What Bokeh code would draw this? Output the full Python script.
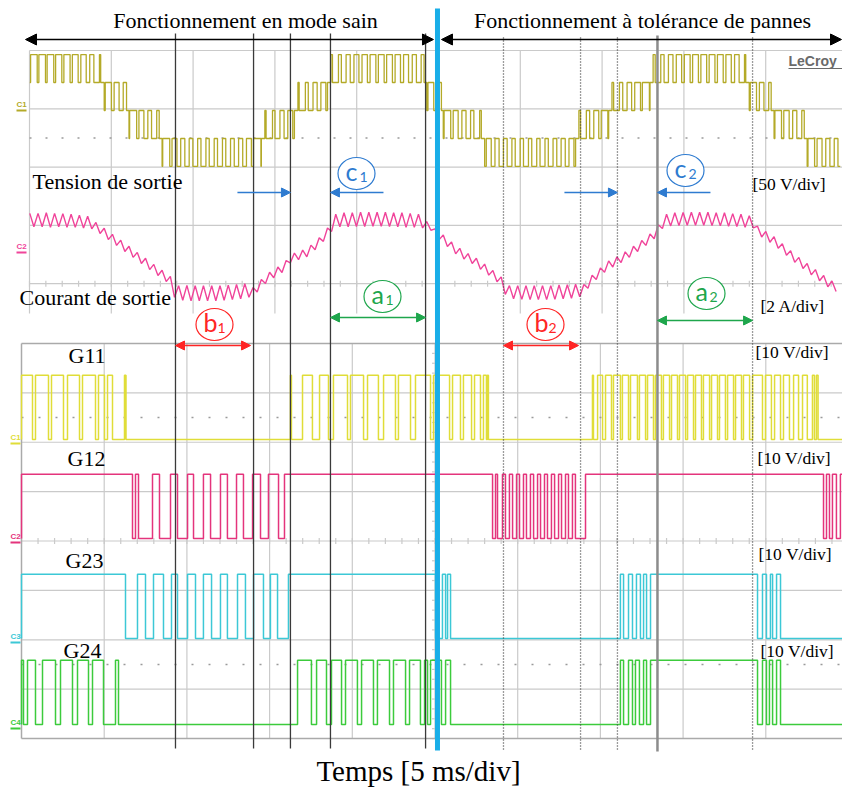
from bokeh.plotting import figure
from bokeh.models import Range1d, Arrow, NormalHead
from bokeh.core.properties import value
from bokeh.embed import file_html
from bokeh.resources import INLINE

# ======================= DATA =======================
MS_PER_DIV = 5
VOLT_V_PER_DIV = 50
CURR_A_PER_DIV = 2
GATE_V_PER_DIV = 10

titles = ["Fonctionnement en mode sain", "Fonctionnement à tolérance de pannes"]
gate_names = ["G11", "G12", "G23", "G24"]

# output voltage: 0.5 ms PWM slots -> lower level index (x 24 V) and duty of upper level
volt_t0_ms = 0.5
volt_slot_ms = 0.5
volt_step_v = 24
volt_low_level = [1, 1, 1, 1, 1, 1, 1, 1, 1,
                  0, 0, 0,
                  -1, -1, -1, -1,
                  -2, -2, -2, -2, -2, -2, -2, -2, -2, -2, -2, -2,
                  -1, -1, -1, -1,
                  0, 0, 0, 0,
                  1, 1, 1, 1, 1, 1, 1, 1, 1, 1, 1, 1,
                  0, 0,
                  -1, -1, -1, -1, -1,
                  -2, -2, -2, -2, -2, -2, -2, -2, -2, -2, -2,
                  -1, -1, -1, -1,
                  0, 0, 0, 0, 0,
                  1, 1, 1, 1, 1, 1, 1, 1, 1, 1, 1, 1,
                  0, 0, 0,
                  -1, -1, -1, -1,
                  -2, -2, -2, -2]
volt_duty = [0.8, 0.8, 0.8, 0.75, 0.75, 0.7, 0.65, 0.5, 0.15,
             0.75, 0.6, 0.4,
             0.85, 0.6, 0.45, 0.3,
             0.85, 0.6, 0.5, 0.45, 0.4, 0.4, 0.4, 0.4, 0.45, 0.5, 0.6, 0.9,
             0.15, 0.3, 0.5, 0.6,
             0.15, 0.35, 0.5, 0.6,
             0.2, 0.35, 0.5, 0.6, 0.65, 0.7, 0.7, 0.7, 0.65, 0.6, 0.5, 0.35,
             0.7, 0.55,
             0.8, 0.6, 0.5, 0.4, 0.2,
             0.6, 0.5, 0.45, 0.4, 0.4, 0.4, 0.4, 0.4, 0.45, 0.5, 0.6,
             0.2, 0.4, 0.6, 0.8,
             0.2, 0.4, 0.55, 0.7, 0.85,
             0.25, 0.4, 0.55, 0.65, 0.7, 0.7, 0.7, 0.7, 0.7, 0.65, 0.55, 0.15,
             0.75, 0.55, 0.3,
             0.8, 0.65, 0.5, 0.3,
             0.8, 0.6, 0.5, 0.45]

# output current, read every 0.25 ms (A)
cur_t0_ms = 0.5
cur_dt_ms = 0.25
current_a = [1.48, 1.02, 1.48, 1.02, 1.50, 1.00, 1.48, 1.02, 1.47, 1.00, 1.45, 1.00, 1.42, 0.98, 1.38, 0.95,
             1.17, 0.79, 0.97, 0.58, 0.76, 0.38, 0.56, 0.17, 0.35, -0.03, 0.14, -0.24, -0.06, -0.45, -0.27, -0.65,
             -0.47, -0.86, -0.68,
             -1.40, -1.00, -1.50, -0.99, -1.52, -1.00, -1.52, -1.00, -1.52, -1.00, -1.52, -1.00, -1.50, -0.98,
             -1.48, -0.96, -1.45, -0.93, -1.40,
             -1.06, -1.22, -0.79, -0.93, -0.54, -0.73, -0.36, -0.55, -0.14, -0.22, 0.12, -0.11, 0.22, -0.01,
             0.39, 0.23, 0.64, 0.52, 0.98, 0.86,
             1.45, 1.02, 1.50, 1.02, 1.50, 1.03, 1.52, 1.03, 1.52, 1.04, 1.52, 1.04, 1.52, 1.03, 1.50, 1.02,
             1.50, 1.00, 1.48, 1.00, 1.45, 0.98, 1.20, 0.90,
             0.95,
             0.58, 0.74, 0.34, 0.50, 0.09, 0.28, -0.09, 0.10, -0.24, -0.06, -0.44, -0.26, -0.64, -0.48, -0.87,
             -0.70, -1.30,
             -1.00, -1.45, -1.00, -1.47, -1.00, -1.48, -1.00, -1.48, -1.00, -1.48, -1.00, -1.47, -0.98, -1.45,
             -0.97, -1.43, -0.95, -1.38,
             -0.96, -1.09, -0.64, -0.79, -0.39, -0.54, -0.15, -0.36, -0.01, -0.21, 0.16, -0.03, 0.35, 0.17,
             0.55, 0.38, 0.77, 0.61, 1.09, 0.96,
             1.45, 1.05, 1.50, 1.06, 1.51, 1.07, 1.52, 1.07, 1.52, 1.07, 1.52, 1.06, 1.50, 1.05, 1.50, 1.04,
             1.47, 1.03, 1.45, 1.00, 1.40, 0.98,
             1.04, 0.67, 0.86, 0.49, 0.68, 0.28, 0.44, 0.04, 0.20, -0.20, -0.03, -0.41, -0.24, -0.63, -0.45,
             -0.83, -0.65, -1.04, -0.84, -1.20]

# gate signals: switch-on / switch-off instants (ms)
gate_high_v = 13
g11_on = [0.0, 0.846, 1.814, 2.781, 3.688, 4.655, 5.200, 6.227, 16.26, 16.99, 18.02, 18.86, 19.89, 20.92,
          21.89, 22.79, 23.82, 24.91, 26.06, 26.72, 27.39, 27.93, 28.17, 34.52, 34.83, 35.31, 35.79, 36.33,
          36.82, 37.36, 37.85, 38.33, 38.81, 39.30, 39.78, 40.27, 40.75, 41.23, 41.72, 42.20, 42.69, 43.17,
          43.65, 44.20, 44.98, 45.53, 46.07, 46.68, 47.22, 47.82, 48.06]
g11_off = [0.665, 1.632, 2.539, 3.507, 4.474, 5.018, 5.502, 6.318, 16.32, 17.59, 18.56, 19.71, 20.68, 21.58,
           22.61, 23.52, 24.73, 25.88, 26.54, 27.21, 27.75, 28.11, 28.23, 34.58, 35.13, 35.67, 36.21, 36.70,
           37.24, 37.73, 38.21, 38.69, 39.18, 39.66, 40.15, 40.63, 41.11, 41.60, 42.08, 42.56, 43.05, 43.53,
           44.02, 44.80, 45.34, 45.89, 46.43, 46.98, 47.51, 47.94, 48.16]
g12_on = [0.0, 6.892, 7.920, 9.009, 10.04, 11.00, 12.03, 13.00, 13.97, 14.93, 15.90, 28.66, 29.08, 29.50,
          29.93, 30.35, 30.77, 31.20, 31.62, 32.04, 32.47, 32.89, 33.31, 34.10, 48.67, 49.03, 49.51]
g12_off = [6.711, 7.074, 8.343, 9.432, 10.40, 11.43, 12.45, 13.42, 14.45, 15.54, 28.48, 28.78, 29.26, 29.69,
           30.11, 30.53, 30.96, 31.38, 31.80, 32.23, 32.65, 33.07, 33.49, 48.49, 48.85, 49.27, 50.12]
g23_on = [0.0, 7.013, 7.981, 9.069, 10.04, 11.00, 12.03, 13.06, 14.03, 15.05, 16.14, 25.45, 25.76, 36.21,
          36.70, 37.18, 37.61, 38.03, 44.80, 45.28, 45.65]
g23_off = [6.288, 7.497, 8.585, 9.432, 10.52, 11.49, 12.45, 13.54, 14.63, 15.48, 25.03, 25.64, 25.94, 36.40,
           36.94, 37.42, 37.79, 44.50, 45.04, 45.41, 45.89]
g24_on = [0.0, 0.363, 1.270, 2.358, 3.386, 4.293, 5.683, 16.69, 17.84, 18.74, 19.59, 20.56, 21.52, 22.49,
          23.46, 24.37, 24.73, 25.64, 36.21, 36.70, 37.12, 37.61, 38.03, 44.80, 45.22, 45.65]
g24_off = [0.121, 0.846, 2.056, 3.083, 4.051, 4.958, 5.865, 17.53, 18.44, 19.35, 20.31, 21.28, 22.25, 23.22,
           24.12, 24.55, 25.39, 25.94, 36.40, 36.94, 37.36, 37.79, 44.50, 45.04, 45.41, 45.89]

# cursors (ms)
cursor_healthy_ms = [9.31, 14.03, 16.26, 18.68, 24.43]
cursor_fault_dotted_ms = [29.14, 33.80, 36.03, 44.20]
cursor_fault_solid_ms = 38.45
transition_ms = 25.15

# ======================= LAYOUT =======================
W, H = 842, 787
ORIGIN_PX = 21
PX_PER_MS = 82.7 / MS_PER_DIV


def px_t(x):
    return (x - ORIGIN_PX) / PX_PER_MS


def base(y, fs):
    # place the visible baseline of a text of size fs at row y
    return y - 0.3 * fs


p = figure(width=W, height=H, x_range=Range1d(px_t(0), px_t(W)),
           y_range=Range1d(H, 0), output_backend="svg", toolbar_location=None,
           x_axis_type=None, y_axis_type=None, min_border=0)
p.outline_line_color = None
p.background_fill_color = "white"

GRID = "#cacaca"
SERIF = value("Liberation Serif")

# ---- top scope (voltage / current) ----
TOP_LEFT_PX, TOP_DIV_PX = 29, 81.8
TOP_TOP, TOP_ROW, TOP_BOTTOM = 50, 58.3, 313
V_ZERO, I_ZERO = 110, 256
px_per_v = TOP_ROW / VOLT_V_PER_DIV
px_per_a = TOP_ROW / CURR_A_PER_DIV

xs, ys = [], []
for k in range(10):
    t = px_t(TOP_LEFT_PX + k * TOP_DIV_PX)
    xs.append([t, t]); ys.append([TOP_TOP, TOP_BOTTOM])
for k in range(5):
    y = TOP_TOP + k * TOP_ROW
    xs.append([px_t(TOP_LEFT_PX), px_t(850)]); ys.append([y, y])
p.multi_line(xs, ys, line_color=GRID, line_width=1.2)
p.line([px_t(TOP_LEFT_PX), px_t(850)], [TOP_TOP + 1.5 * TOP_ROW] * 2, line_color="#9a9a9a",
       line_width=1.5, line_dash="2 14")
tick_t = [px_t(TOP_LEFT_PX + k * TOP_DIV_PX / 5) for k in range(52)]
ty = TOP_TOP + 4 * TOP_ROW
p.segment(x0=tick_t, y0=[ty - 3] * 52, x1=tick_t, y1=[ty + 3] * 52, line_color=GRID, line_width=1.2)

# ---- bottom scope (gates) ----
BOT_TOP, BOT_ROW = 343, 49.38
BOT_BOTTOM = BOT_TOP + 8 * BOT_ROW
xs, ys = [], []
for k in range(1, 10):
    t = k * MS_PER_DIV
    xs.append([t, t]); ys.append([BOT_TOP, BOT_BOTTOM])
for k in range(1, 8):
    y = BOT_TOP + k * BOT_ROW
    xs.append([0, 10 * MS_PER_DIV]); ys.append([y, y])
p.multi_line(xs, ys, line_color=GRID, line_width=1.2)
for yy in (BOT_TOP + 1.5 * BOT_ROW, BOT_TOP + 6.5 * BOT_ROW):
    p.line([0, 10 * MS_PER_DIV], [yy, yy], line_color="#9a9a9a", line_width=1.5, line_dash="2 15")
tick_t = [k for k in range(0, 51)]
cy = BOT_TOP + 4 * BOT_ROW
p.segment(x0=tick_t, y0=[cy - 3] * 51, x1=tick_t, y1=[cy + 3] * 51, line_color=GRID, line_width=1.2)
vy = [BOT_TOP + k * BOT_ROW / 5 for k in range(41)]
cx = 5 * MS_PER_DIV
p.segment(x0=[cx - 3 / PX_PER_MS] * 41, y0=vy, x1=[cx + 3 / PX_PER_MS] * 41, y1=vy, line_color=GRID,
          line_width=1.2)
p.multi_line([[0, 0], [0, 10 * MS_PER_DIV], [0, 10 * MS_PER_DIV]],
             [[BOT_TOP, BOT_BOTTOM], [BOT_TOP, BOT_TOP], [BOT_BOTTOM, BOT_BOTTOM]],
             line_color="#aaaaaa", line_width=1.5)

# ---- gate traces ----
px_per_vg = BOT_ROW / GATE_V_PER_DIV
gate_zero = [439, 538, 638, 724]
gate_colors = ["#e0dd38", "#e4347c", "#3cc8d6", "#3ccb3c"]
gate_data = [(g11_on, g11_off), (g12_on, g12_off), (g23_on, g23_off), (g24_on, g24_off)]
t_end = px_t(850)
for (on, off), z, col in zip(gate_data, gate_zero, gate_colors):
    gx, gy = [0.0], [0.0]
    for a, b in zip(on, off):
        gx += [a, a, b, b]
        gy += [0, gate_high_v, gate_high_v, 0]
    gx.append(t_end); gy.append(0)
    p.line(gx, [z - v * px_per_vg for v in gy], line_color=col, line_width=1.5)

# ---- voltage trace ----
vx, vy2 = [], []
for k, (lo, d) in enumerate(zip(volt_low_level, volt_duty)):
    t0 = volt_t0_ms + k * volt_slot_ms
    a = t0 + (1 - d) / 2 * volt_slot_ms
    b = t0 + (1 + d) / 2 * volt_slot_ms
    vx += [t0, a, a, b, b, t0 + volt_slot_ms]
    vy2 += [lo, lo, lo + 1, lo + 1, lo, lo]
p.line(vx, [V_ZERO - lv * volt_step_v * px_per_v for lv in vy2], line_color="#b4aa28", line_width=1.3)

# ---- current trace ----
ct = [cur_t0_ms + k * cur_dt_ms for k in range(len(current_a))]
p.line(ct, [I_ZERO - a * px_per_a for a in current_a], line_color="#f0449a", line_width=1.4)

# ---- cursors ----
n = len(cursor_healthy_ms)
p.segment(x0=cursor_healthy_ms, y0=[33] * n, x1=cursor_healthy_ms, y1=[748] * n,
          line_color="#3a3a3a", line_width=1.3)
n = len(cursor_fault_dotted_ms)
p.segment(x0=cursor_fault_dotted_ms, y0=[37] * n, x1=cursor_fault_dotted_ms, y1=[751] * n,
          line_color="#3a3a3a", line_width=1.3, line_dash="1 2")
p.segment(x0=[cursor_fault_solid_ms], y0=[35], x1=[cursor_fault_solid_ms], y1=[751],
          line_color="#8c8c8c", line_width=2.5)

# ---- transition (blue) line ----
p.segment(x0=[transition_ms], y0=[8], x1=[transition_ms], y1=[750], line_color="#19aee8",
          line_width=5)


# ---- arrows ----
def arrow(t0, t1, y, color, both=True, size=9, lw=1.4):
    end = NormalHead(size=size, fill_color=color, line_color=color)
    start = NormalHead(size=size, fill_color=color, line_color=color) if both else None
    p.add_layout(Arrow(x_start=t0, y_start=y, x_end=t1, y_end=y, start=start, end=end,
                       line_color=color, line_width=lw))


arrow(px_t(25), transition_ms - 4 / PX_PER_MS, 39, "black", size=11, lw=1.5)
arrow(transition_ms + 4 / PX_PER_MS, px_t(841), 39, "black", size=11, lw=1.5)

BLUE, GREEN, RED = "#2e7bd0", "#1ea64c", "#ff2525"
tail = 53 / PX_PER_MS
arrow(cursor_healthy_ms[2] - tail, cursor_healthy_ms[2], 192, BLUE, both=False)
arrow(cursor_healthy_ms[3] + tail, cursor_healthy_ms[3], 192, BLUE, both=False)
arrow(cursor_fault_dotted_ms[2] - tail, cursor_fault_dotted_ms[2], 192, BLUE, both=False)
arrow(cursor_fault_solid_ms + tail, cursor_fault_solid_ms, 192, BLUE, both=False)
arrow(cursor_healthy_ms[3], cursor_healthy_ms[4], 317, GREEN)
arrow(cursor_fault_solid_ms, cursor_fault_dotted_ms[3], 320, GREEN)
arrow(cursor_healthy_ms[0], cursor_healthy_ms[1] - 3 / PX_PER_MS, 345, RED)
arrow(cursor_fault_dotted_ms[0], cursor_fault_dotted_ms[1] - 2 / PX_PER_MS, 345, RED)

# ---- circled labels ----
circ = [("c", "1", 356, 173, BLUE), ("c", "2", 685, 170, BLUE),
        ("a", "1", 382, 296, GREEN), ("a", "2", 706, 293, GREEN),
        ("b", "1", 214, 324, RED), ("b", "2", 545, 324, RED)]
for letter, sub, cxp, cyp, col in circ:
    p.ellipse(x=[px_t(cxp)], y=[cyp], width=37, height=32, width_units="screen",
              height_units="screen", fill_color="white", line_color=col, line_width=1.2)
    p.text(x=[px_t(cxp - 11)], y=[base(cyp + 5, 25)], text=[letter], text_font=value("Lato"),
           text_font_size=value("25px"), text_color=col, text_baseline="alphabetic")
    p.text(x=[px_t(cxp + 3)], y=[base(cyp + 8, 14)], text=[sub], text_font=value("Lato"),
           text_font_size=value("14px"), text_color=col, text_baseline="alphabetic")

# ---- texts ----
p.text(x=[px_t(245), px_t(642)], y=[base(27, 22)] * 2, text=titles, text_font=SERIF,
       text_font_size=value("22px"), text_align="center", text_baseline="alphabetic")
p.text(x=[px_t(32), px_t(19)], y=[base(188, 22), base(304, 22)],
       text=["Tension  de sortie", "Courant de sortie"],
       text_font=SERIF, text_font_size=value("22px"), text_baseline="alphabetic")
p.text(x=[px_t(752), px_t(760)], y=[base(189, 17.5), base(311, 17.5)], text=["[50 V/div]", "[2 A/div]"],
       text_font=SERIF, text_font_size=value("17.5px"), text_baseline="alphabetic")
p.text(x=[px_t(755), px_t(757), px_t(758), px_t(760)], y=[base(v, 17.5) for v in (357, 463, 559, 656)],
       text=["[10 V/div]"] * 4, text_font=SERIF, text_font_size=value("17.5px"),
       text_baseline="alphabetic")
p.text(x=[px_t(68), px_t(67), px_t(65), px_t(63)], y=[base(v, 22) for v in (362, 465, 567, 657)],
       text=gate_names, text_font=SERIF, text_font_size=value("22px"), text_baseline="alphabetic")
p.text(x=[px_t(418)], y=[base(779, 29)], text=["Temps [5 ms/div]"], text_font=SERIF,
       text_font_size=value("29px"), text_align="center", text_baseline="alphabetic")
p.text(x=[px_t(788)], y=[base(65, 14)], text=["LeCroy"], text_font=value("Liberation Sans"),
       text_font_size=value("14px"), text_font_style="bold", text_color="#6a6a6a",
       text_baseline="alphabetic")
p.segment(x0=[px_t(788)], y0=[68], x1=[px_t(845)], y1=[68], line_color="#6a6a6a", line_width=1.2)

# channel markers
mk_x, mk_y, mk_t, mk_c = [16, 16], [106, 248], ["C1", "C2"], ["#b4aa28", "#f0449a"]
for i, z in enumerate(gate_zero):
    mk_x.append(10); mk_y.append(z); mk_t.append("C%d" % (i + 1)); mk_c.append(gate_colors[i])
p.text(x=[px_t(v) for v in mk_x], y=[base(v, 8) for v in mk_y], text=mk_t, text_color=mk_c,
       text_font=value("Liberation Sans"), text_font_size=value("8px"), text_font_style="bold",
       text_baseline="alphabetic")
p.segment(x0=[px_t(v) for v in mk_x], y0=[v + 4 for v in mk_y], x1=[px_t(v + 10) for v in mk_x],
          y1=[v + 4 for v in mk_y], line_color=mk_c, line_width=2)

open("out.html", "w").write(file_html(p, INLINE))
